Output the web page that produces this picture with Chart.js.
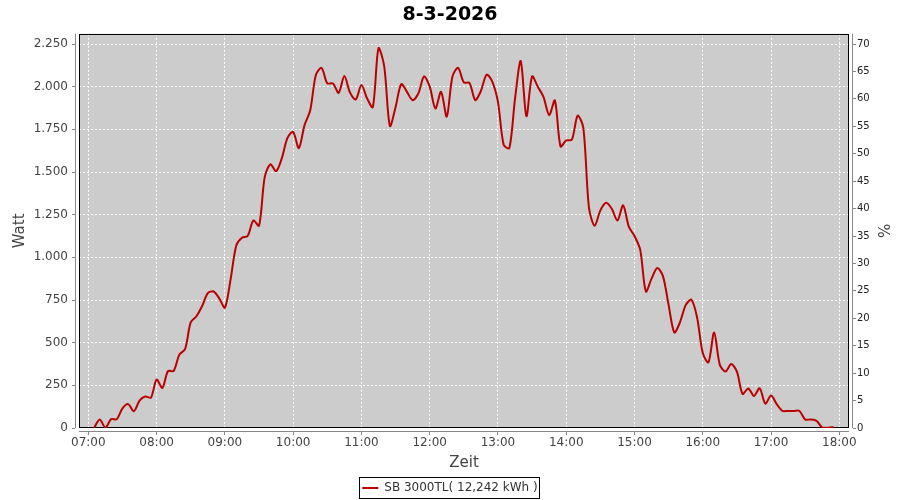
<!DOCTYPE html>
<html>
<head>
<meta charset="utf-8">
<title>8-3-2026</title>
<script src="https://cdn.jsdelivr.net/npm/chart.js@4.4.1/dist/chart.umd.min.js"></script>
<style>
  html, body { margin: 0; padding: 0; background: #fff; }
</style>
</head>
<body>
<canvas id="myChart" width="900" height="500"></canvas>
<script>
// Messwerte alle 5 Minuten, erster Wert um 07:05
const firstSample = '07:05';
const sampleStep = 5; // Minuten
const watts = [
  0, 50, 2, 52, 52, 115, 140, 98, 160, 185, 178,                // 07:05 - 07:55
  284, 235, 333, 335, 430, 462, 620, 655, 715, 790, 800, 760,    // 08
  705, 870, 1070, 1115, 1125, 1216, 1185, 1470, 1545, 1505, 1580, 1700, // 09
  1735, 1640, 1775, 1862, 2070, 2110, 2020, 2019, 1964, 2062, 1965, 1925, // 10
  2010, 1931, 1880, 2225, 2120, 1770, 1880, 2015, 1970, 1921, 1960, 2060, // 11
  2000, 1872, 1970, 1825, 2060, 2110, 2025, 2022, 1921, 1975, 2070, 2030, // 12
  1911, 1660, 1640, 1930, 2150, 1827, 2060, 2000, 1940, 1833, 1920, 1650, // 13
  1685, 1690, 1830, 1760, 1290, 1185, 1275, 1320, 1285, 1216, 1305, 1180, // 14
  1125, 1045, 800, 875, 938, 890, 720, 560, 620, 720, 752, 648,           // 15
  440, 385, 560, 370, 331, 375, 330, 200, 232, 188, 233, 143,             // 16
  190, 140, 100, 100, 100, 100, 50, 50, 42, 3, 2, 5                       // 17
];
const seriesLabel = 'SB 3000TL( 12,242 kWh )';
const chartTitle = '8-3-2026';

const wattTicks = [0, 250, 500, 750, 1000, 1250, 1500, 1750, 2000, 2250];
const pctTicks = [0, 5, 10, 15, 20, 25, 30, 35, 40, 45, 50, 55, 60, 65, 70];
const hourTicks = ['07:00', '08:00', '09:00', '10:00', '11:00', '12:00',
                   '13:00', '14:00', '15:00', '16:00', '17:00', '18:00'];

const wattMax = 2310;
const pctMax = wattMax * 70 / 2250;
const xMin = 6.863, xMax = 18.142;

const FONT = 'DejaVu Sans';

function toHours(s) {
  const p = s.split(':');
  return +p[0] + p[1] / 60;
}
function pad(n) { return (n < 10 ? '0' : '') + n; }
function hhmm(v) {
  let m = Math.round(v * 60);
  return pad(Math.floor(m / 60)) + ':' + pad(m % 60);
}
function dots(v) {
  return String(v).replace(/\B(?=(\d{3})+(?!\d))/g, '.');
}

const start = toHours(firstSample);
const points = watts.map((w, i) => ({ x: start + i * sampleStep / 60, y: w }));

// grauer Hintergrund, schwarzer Rahmen, abgesetzte Achsenlinien, Legendenrahmen
const plotFrame = {
  id: 'plotFrame',
  beforeDraw(chart) {
    const { ctx, chartArea: a } = chart;
    ctx.save();
    ctx.fillStyle = '#cccccc';
    ctx.fillRect(a.left, a.top, a.right - a.left, a.bottom - a.top);
    ctx.restore();
  },
  beforeDatasetsDraw(chart) {
    const { ctx, chartArea: a } = chart;
    ctx.save();
    ctx.lineWidth = 1;
    ctx.strokeStyle = '#000';
    ctx.strokeRect(Math.round(a.left) + 0.5, Math.round(a.top) + 0.5,
      Math.round(a.right - a.left) - 1, Math.round(a.bottom - a.top) - 1);
    ctx.strokeStyle = '#888';
    ctx.beginPath();
    const l = Math.round(a.left) - 3.5, r = Math.round(a.right) + 3.5, b = Math.round(a.bottom) + 3.5;
    ctx.moveTo(l, a.top); ctx.lineTo(l, a.bottom);
    ctx.moveTo(a.left, b); ctx.lineTo(a.right, b);
    ctx.moveTo(r, a.top); ctx.lineTo(r, a.bottom);
    ctx.stroke();
    ctx.restore();
  },
  afterDraw(chart) {
    const hb = chart.legend.legendHitBoxes[0];
    if (!hb) return;
    const ctx = chart.ctx;
    ctx.save();
    ctx.strokeStyle = '#000';
    ctx.lineWidth = 1;
    ctx.strokeRect(Math.round(hb.left - 3) + 0.5, Math.round(hb.top - 5) + 0.5,
      Math.round(hb.width + 5), Math.round(hb.height + 9));
    ctx.restore();
  }
};

const ctx = document.getElementById('myChart');
const myChart = new Chart(ctx, {
  type: 'line',
  data: {
    datasets: [{
      label: seriesLabel,
      data: points,
      borderColor: '#bb0000',
      backgroundColor: '#bb0000',
      borderWidth: 2,
      pointRadius: 0,
      tension: 0.3,
      fill: false,
      yAxisID: 'y'
    }]
  },
  options: {
    responsive: false,
    animation: false,
    layout: { padding: { left: 0, right: 0, top: 0, bottom: -4 } },
    plugins: {
      title: {
        display: true,
        text: chartTitle,
        color: '#000',
        font: { family: FONT, size: 19, weight: 'bold' },
        padding: { top: 4, bottom: 7 }
      },
      legend: {
        position: 'bottom',
        labels: {
          usePointStyle: true,
          pointStyle: 'line',
          pointStyleWidth: 16,
          boxHeight: 12,
          padding: 1,
          color: '#333',
          font: { family: FONT, size: 12 }
        }
      },
      tooltip: { enabled: false }
    },
    scales: {
      x: {
        type: 'linear',
        min: xMin,
        max: xMax,
        afterFit(scale) { scale.height = 53; },
        afterBuildTicks(scale) { scale.ticks = hourTicks.map(s => ({ value: toHours(s) })); },
        ticks: {
          callback: v => hhmm(v),
          color: '#444',
          padding: 1,
          maxRotation: 0,
          font: { family: FONT, size: 12 }
        },
        grid: {
          color: '#ffffff',
          tickColor: '#888',
          tickLength: 7,
          tickBorderDash: [0, 4, 3, 20]
        },
        border: { display: false, dash: [2, 2] },
        title: {
          display: true,
          text: 'Zeit',
          color: '#444',
          font: { family: FONT, size: 15 },
          padding: { top: 2, bottom: 9 }
        }
      },
      y: {
        position: 'left',
        min: 0,
        max: wattMax,
        afterFit(scale) { scale.width = 79; },
        afterBuildTicks(scale) { scale.ticks = wattTicks.map(v => ({ value: v })); },
        ticks: {
          callback: v => dots(v),
          color: '#444',
          padding: 4,
          font: { family: FONT, size: 12 }
        },
        grid: {
          color: '#ffffff',
          tickColor: '#888',
          tickLength: 7,
          tickBorderDash: [3, 20]
        },
        border: { display: false, dash: [2, 2] },
        title: {
          display: true,
          text: 'Watt',
          color: '#444',
          font: { family: FONT, size: 15 },
          padding: { top: 11, bottom: 0 }
        }
      },
      y1: {
        position: 'right',
        min: 0,
        max: pctMax,
        afterFit(scale) { scale.width = 51; },
        afterBuildTicks(scale) { scale.ticks = pctTicks.map(v => ({ value: v })); },
        ticks: {
          color: '#222',
          padding: 1,
          font: { family: FONT, size: 10 }
        },
        grid: {
          drawOnChartArea: false,
          tickColor: '#888',
          tickLength: 7,
          tickBorderDash: [0, 4, 3, 20]
        },
        border: { display: false },
        title: {
          display: true,
          text: '%',
          color: '#444',
          font: { family: FONT, size: 15 },
          padding: { top: 9, bottom: 0 }
        }
      }
    }
  },
  plugins: [plotFrame]
});
</script>
</body>
</html>
